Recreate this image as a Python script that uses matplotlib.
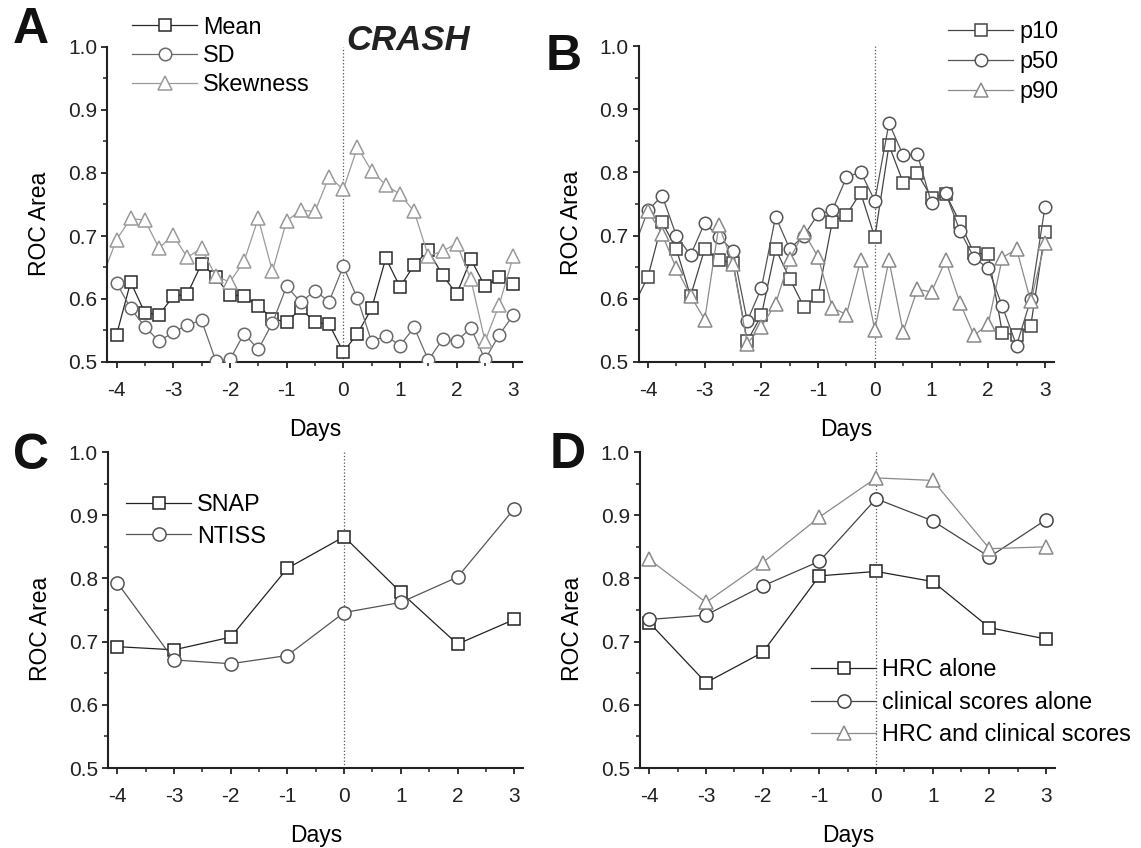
import numpy as np
import matplotlib
matplotlib.use("Agg")
import matplotlib.pyplot as plt
from matplotlib.ticker import MultipleLocator

plt.rcParams['font.family'] = ['Liberation Sans', 'DejaVu Sans']
plt.rcParams['axes.unicode_minus'] = False

#--------------------------------------------------------------------------#
# data
#--------------------------------------------------------------------------#

# panels A and B: every 6 h from day -4 to day 3
days_q = [-4.0, -3.75, -3.5, -3.25, -3.0, -2.75, -2.5, -2.25, -2.0, -1.75,
          -1.5, -1.25, -1.0, -0.75, -0.5, -0.25, 0.0, 0.25, 0.5, 0.75,
          1.0, 1.25, 1.5, 1.75, 2.0, 2.25, 2.5, 2.75, 3.0]
day_before = [-4.25]        # clipped point left of the axis

a_mean = [0.543, 0.627, 0.578, 0.575, 0.604, 0.608, 0.656, 0.635, 0.606, 0.605,
          0.589, 0.569, 0.563, 0.585, 0.563, 0.560, 0.516, 0.545, 0.585, 0.665,
          0.619, 0.654, 0.677, 0.638, 0.608, 0.663, 0.620, 0.635, 0.624]
a_sd   = [0.626, 0.585, 0.556, 0.533, 0.547, 0.559, 0.566, 0.502, 0.504, 0.545,
          0.520, 0.562, 0.620, 0.595, 0.613, 0.596, 0.652, 0.601, 0.532, 0.542,
          0.526, 0.555, 0.503, 0.536, 0.533, 0.554, 0.504, 0.543, 0.575]
a_skew = [0.694, 0.728, 0.725, 0.681, 0.701, 0.666, 0.681, 0.636, 0.627, 0.660,
          0.728, 0.644, 0.724, 0.741, 0.739, 0.794, 0.774, 0.841, 0.803, 0.781,
          0.766, 0.739, 0.668, 0.676, 0.688, 0.631, 0.533, 0.591, 0.668]
a_skew_before = [0.635]

b_p10 = [0.635, 0.721, 0.679, 0.604, 0.679, 0.661, 0.657, 0.533, 0.574, 0.679,
         0.632, 0.587, 0.605, 0.722, 0.733, 0.768, 0.697, 0.843, 0.784, 0.799,
         0.760, 0.766, 0.721, 0.672, 0.671, 0.546, 0.543, 0.557, 0.705]
b_p50 = [0.740, 0.763, 0.700, 0.669, 0.720, 0.698, 0.676, 0.565, 0.617, 0.730,
         0.679, 0.700, 0.734, 0.740, 0.792, 0.801, 0.755, 0.878, 0.827, 0.829,
         0.751, 0.767, 0.708, 0.665, 0.648, 0.588, 0.526, 0.599, 0.745]
b_p90 = [0.739, 0.702, 0.648, 0.605, 0.567, 0.716, 0.655, 0.529, 0.556, 0.592,
         0.663, 0.705, 0.666, 0.586, 0.575, 0.661, 0.551, 0.661, 0.548, 0.615,
         0.611, 0.661, 0.594, 0.542, 0.560, 0.665, 0.679, 0.596, 0.689]
b_p10_before = [0.590]
b_p50_before = [0.680]

# panels C and D: daily
days_d = [-4, -3, -2, -1, 0, 1, 2, 3]

c_snap  = [0.692, 0.687, 0.707, 0.816, 0.866, 0.778, 0.696, 0.735]
c_ntiss = [0.793, 0.671, 0.665, 0.678, 0.746, 0.762, 0.802, 0.910]

d_hrc      = [0.730, 0.635, 0.683, 0.804, 0.811, 0.795, 0.722, 0.704]
d_clinical = [0.735, 0.742, 0.788, 0.827, 0.926, 0.891, 0.834, 0.893]
d_both     = [0.830, 0.762, 0.825, 0.897, 0.959, 0.955, 0.847, 0.850]

#--------------------------------------------------------------------------#

W, H = 1141, 848
fig = plt.figure(figsize=(W / 100, H / 100), dpi=100)

XMIN, XMAX = -4.16, 3.16
DAY_PX = 56.7

def px_axes(x_m4, top, bottom):
    # x_m4: pixel column of the day -4 tick
    left = x_m4 + (XMIN + 4) * DAY_PX
    right = x_m4 + (XMAX + 4) * DAY_PX
    return fig.add_axes([left / W, 1 - bottom / H, (right - left) / W, (bottom - top) / H])

def style(ax):
    ax.set_xlim(XMIN, XMAX)
    ax.set_ylim(0.5, 1.0)
    ax.xaxis.set_minor_locator(MultipleLocator(0.5))
    ax.yaxis.set_minor_locator(MultipleLocator(0.05))
    ax.set_xticks(days_d)
    ax.set_xticklabels([str(d) for d in days_d])
    ax.set_yticks([0.5, 0.6, 0.7, 0.8, 0.9, 1.0])
    ax.set_yticklabels(['0.5', '0.6', '0.7', '0.8', '0.9', '1.0'])
    for s in ('top', 'right'):
        ax.spines[s].set_visible(False)
    for s in ('left', 'bottom'):
        ax.spines[s].set_linewidth(1.5)
        ax.spines[s].set_color('#222222')
    ax.tick_params(which='major', direction='out', length=4.5, width=1.3,
                   labelsize=15, colors='#222222')
    ax.tick_params(axis='x', which='major', pad=9)
    ax.tick_params(axis='y', which='major', pad=3)
    ax.tick_params(which='minor', direction='out', length=2.8, width=1.1, colors='#222222')
    ax.axvline(0, ls=':', lw=0.9, color='#555555', zorder=1)
    ax.set_ylabel('ROC Area', fontsize=16.5)
    ax.yaxis.set_label_coords(-0.135, 0.44)
    ax.set_xlabel('Days', fontsize=16.5, labelpad=13)

def series(ax, x, y, marker, color, label, ms=9, lw=0.9):
    ax.plot(x, y, marker=marker, color=color, mfc='white', mec=color, ms=ms,
            mew=1.1, lw=lw, label=label, zorder=3)

def legend(ax, x_px, top_px, spacing):
    ax.legend(loc='upper left', bbox_to_anchor=(x_px / W, 1 - top_px / H),
              bbox_transform=fig.transFigure, frameon=False, fontsize=16.8,
              handlelength=2.8, handletextpad=0.25, labelspacing=spacing,
              borderpad=0, borderaxespad=0)

# A -----------------------------------------------------------------------
axA = px_axes(116.5, 47, 362)
style(axA)
axA.plot(day_before + days_q[:1], a_skew_before + a_skew[:1], color='#9a9a9a', lw=0.9, zorder=2)
series(axA, days_q, a_mean, 's', '#2a2a2a', 'Mean', ms=8.5)
series(axA, days_q, a_sd, 'o', '#6a6a6a', 'SD', ms=9)
series(axA, days_q, a_skew, '^', '#9a9a9a', 'Skewness', ms=10)
legend(axA, 132, 15.5, 0.25)
fig.text(408 / W, 1 - 40.5 / H, 'CRASH', fontsize=25, fontweight='bold', fontstyle='italic',
         ha='center', va='center', color='#222222')

# B -----------------------------------------------------------------------
axB = px_axes(648, 46, 362)
style(axB)
axB.plot(day_before + days_q[:1], b_p10_before + b_p10[:1], color='#444444', lw=0.9, zorder=2)
axB.plot(day_before + days_q[:1], b_p50_before + b_p50[:1], color='#666666', lw=0.9, zorder=2)
series(axB, days_q, b_p10, 's', '#444444', 'p10', ms=8.5)
series(axB, days_q, b_p50, 'o', '#555555', 'p50', ms=9)
series(axB, days_q, b_p90, '^', '#8a8a8a', 'p90', ms=10)
legend(axB, 948, 20, 0.3)

# C -----------------------------------------------------------------------
axC = px_axes(117.3, 452, 768)
style(axC)
series(axC, days_d, c_snap, 's', '#222222', 'SNAP', ms=9)
series(axC, days_d, c_ntiss, 'o', '#555555', 'NTISS', ms=9.5)
legend(axC, 126, 493, 0.37)

# D -----------------------------------------------------------------------
axD = px_axes(649.3, 452, 768)
style(axD)
series(axD, days_d, d_hrc, 's', '#222222', 'HRC alone', ms=9)
series(axD, days_d, d_clinical, 'o', '#444444', 'clinical scores alone', ms=9.5)
series(axD, days_d, d_both, '^', '#8a8a8a', 'HRC and clinical scores', ms=10.5)
legend(axD, 811, 658.5, 0.40)

# panel letters
for letter, x, y in [('A', 31, 30), ('B', 564, 57), ('C', 31, 456), ('D', 568, 455)]:
    fig.text(x / W, 1 - y / H, letter, fontsize=36, fontweight='bold',
             ha='center', va='center', color='#111111')

fig.savefig('out.png', dpi=100)
